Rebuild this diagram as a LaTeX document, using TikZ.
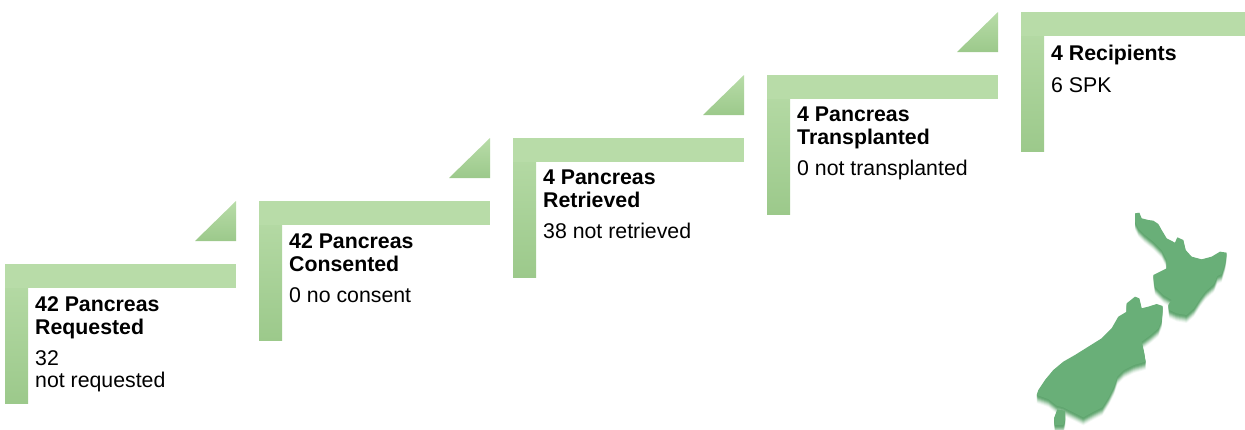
\documentclass[tikz,border=0pt]{standalone}
\usepackage{fontspec}
\setmainfont{Liberation Sans}
\definecolor{barlight}{HTML}{B8DCA8}
\definecolor{bardark}{HTML}{9CC98B}
\definecolor{maptop}{HTML}{69AF78}
\definecolor{mapside}{HTML}{5FA56E}
\newcommand{\northisland}{(345,40)--(358,38)--(365,55)--(385,60)--(400,62)--(415,72)--(425,90)--(440,115)--(465,128)--(472,112)--(490,120)--(497,150)--(515,170)--(545,178)--(575,170)--(600,155)--(620,158)--(615,190)--(605,222)--(592,228)--(582,252)--(557,274)--(542,294)--(522,325)--(500,345)--(470,340)--(448,330)--(445,315)--(455,300)--(430,285)--(405,260)--(400,225)--(420,215)--(440,205)--(440,180)--(425,150)--(400,125)--(375,105)--(355,85)--(345,65)--cycle}
\newcommand{\southisland}{(320,310)--(345,290)--(358,295)--(365,325)--(385,320)--(410,312)--(428,318)--(425,360)--(415,385)--(392,405)--(365,425)--(372,455)--(377,485)--(342,495)--(312,510)--(292,530)--(282,560)--(267,590)--(247,622)--(217,637)--(190,652)--(160,637)--(130,622)--(110,617)--(85,597)--(50,585)--(55,570)--(75,540)--(100,510)--(130,485)--(165,465)--(205,440)--(245,415)--(275,385)--(295,350)--(320,335)--cycle}
\newcommand{\stewart}{(102,655)--(112,628)--(135,632)--(135,660)--(130,675)--(105,675)--cycle}
\tikzset{
  x=1pt,y=-1pt,
  topbar/.style={fill=barlight,draw=none},
  sidebar/.style={top color=barlight,bottom color=bardark,draw=none},
  steptext/.style={anchor=north west,align=left,inner sep=0pt,font=\fontsize{21.3}{23}\selectfont},
  mapscope/.style={shift={(1020pt,-200pt)},x=0.3333pt,y=-0.3333pt,line join=round}
}
\newcommand{\stepshape}[3]{% left x, top y, right x
  \fill[sidebar] (#1,#2) rectangle ++(23,139);
  \fill[topbar] (#1,#2) rectangle (#3,#2+24);
}
\newcommand{\stepwedge}[2]{% right x, top y: gradient built from overlapping rows
  \foreach \i in {0,...,39}{
    \pgfmathsetmacro{\mixv}{100-2.5*\i}
    \pgfmathsetmacro{\rowtop}{#2+\i}
    \pgfmathsetmacro{\rowbot}{#2+\i+1}
    \fill[fill=barlight!\mixv!bardark]
      (#1,\rowtop) -- (#1,\rowbot) -- (#1-1.025*\i-1.025,\rowbot) -- (#1-1.025*\i,\rowtop) -- cycle;
  }
}
\begin{document}
\begin{tikzpicture}
\useasboundingbox (0,0) rectangle (1245,429);
\clip (0,0) rectangle (1245,429);
\stepshape{5}{264}{236}
\stepshape{259}{201}{490}
\stepshape{513}{138}{744}
\stepshape{767}{75}{998}
\stepshape{1021}{12}{1245}
\stepwedge{236}{201}
\stepwedge{490}{138}
\stepwedge{744}{75}
\stepwedge{998}{12}
\node[steptext] (s1) at (35,296) {\textbf{42 Pancreas}\\\textbf{Requested}\\[8pt]32\\[-1pt]not requested};
\node[steptext] (s2) at (289,233) {\textbf{42 Pancreas}\\\textbf{Consented}\\[8pt]0 no consent};
\node[steptext] (s3) at (543,170) {\textbf{4 Pancreas}\\\textbf{Retrieved}\\[8pt]38 not retrieved};
\node[steptext] (s4) at (797,107) {\textbf{4 Pancreas}\\\textbf{Transplanted}\\[8pt]0 not transplanted};
\node[steptext] (s5) at (1051,45) {\textbf{4 Recipients}\\[9pt]6 SPK};
\begin{scope}[mapscope]
  \foreach \d/\o in {24/0.08,21/0.12,18/0.18,15/0.25,12/0.35,9/0.5,6/0.7,3/0.9}{
    \fill[mapside,opacity=\o] [yshift=-\d*0.3333pt] \northisland;
    \fill[mapside,opacity=\o] [yshift=-\d*0.3333pt] \southisland;
    \fill[mapside,opacity=\o] [yshift=-\d*0.3333pt] \stewart;
  }
  \fill[maptop] \northisland;
  \fill[maptop] \southisland;
  \fill[maptop] \stewart;
\end{scope}
\end{tikzpicture}
\end{document}
